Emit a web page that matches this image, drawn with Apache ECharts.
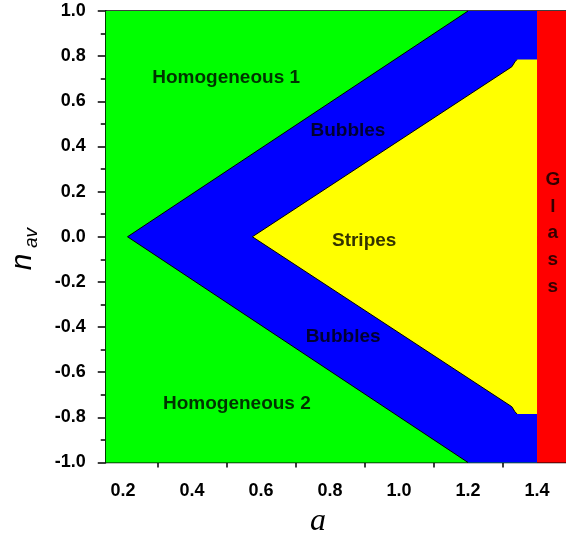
<!DOCTYPE html>
<html>
<head>
<meta charset="utf-8">
<script src="https://cdn.jsdelivr.net/npm/echarts@6/dist/echarts.min.js"></script>
<style>html,body{margin:0;padding:0;background:#fff}#c{width:566px;height:542px}</style>
</head>
<body>
<div id="c"></div>
<script>
// ---- data ----
const aRange = [0.15, 1.484];
const nRange = [-1.0, 1.0];
const glassStart = 1.40;                          // a where the Glass phase begins
const bubbleEdgeA = [1.20, 0.213, 1.20];          // Homogeneous / Bubbles boundary
const bubbleEdgeN = [1.00, 0.00, -1.00];
const stripeEdgeA = [1.342, 1.336, 1.327, 0.575, 1.327, 1.336, 1.342]; // Bubbles / Stripes boundary
const stripeEdgeN = [0.785, 0.775, 0.753, 0.00, -0.753, -0.775, -0.785];
const xMajorTicks = [0.2, 0.4, 0.6, 0.8, 1.0, 1.2, 1.4];
const xMinorTicks = [0.3, 0.5, 0.7, 0.9, 1.1, 1.3];
const regionNames = ['Homogeneous 1', 'Bubbles', 'Stripes', 'Bubbles', 'Homogeneous 2', 'G\nl\na\ns\ns'];
const regionLabelA = [0.499, 0.852, 0.899, 0.838, 0.530, 1.446];
const regionLabelN = [0.705, 0.468, -0.02, -0.441, -0.738, 0.016];

const FONT = 'Liberation Sans, Arial, sans-serif';
const chart = echarts.init(document.getElementById('c'), null, {renderer: 'canvas'});

function pts(as, ns, api) { return as.map((a, i) => api.coord([a, ns[i]])); }

const option = {
  animation: false,
  grid: {left: 105.75, right: 0, top: 11, bottom: 79.5, show: true, borderColor: '#000', borderWidth: 1.5, backgroundColor: 'transparent'},
  xAxis: [{
    type: 'value', min: aRange[0], max: aRange[1], position: 'bottom',
    axisLine: {show: true, lineStyle: {color: '#000', width: 1.5}},
    axisTick: {show: true, customValues: xMajorTicks, length: 8, lineStyle: {color: '#000', width: 1.5}},
    axisLabel: {show: true, customValues: xMajorTicks, margin: 20, color: '#000', fontSize: 18, fontWeight: 'bold', fontFamily: FONT, formatter: v => Number(v).toFixed(1)},
    splitLine: {show: false}
  }, {
    type: 'value', min: aRange[0], max: aRange[1], position: 'bottom',
    axisLine: {show: false},
    axisTick: {show: true, customValues: xMinorTicks, length: 5, lineStyle: {color: '#000', width: 1.5}},
    axisLabel: {show: false},
    splitLine: {show: false}
  }],
  yAxis: {
    type: 'value', min: nRange[0], max: nRange[1], interval: 0.2,
    axisLine: {show: true, lineStyle: {color: '#000', width: 1.5}},
    axisTick: {show: true, length: 8, lineStyle: {color: '#000', width: 1.5}},
    minorTick: {show: true, splitNumber: 2, length: 5, lineStyle: {color: '#000', width: 1.5}},
    axisLabel: {margin: 20, color: '#000', fontSize: 18, fontWeight: 'bold', fontFamily: FONT, formatter: v => Number(v).toFixed(1)},
    splitLine: {show: false}, minorSplitLine: {show: false}
  },
  graphic: [
    {type: 'text', x: 23, y: 262, rotation: Math.PI / 2, style: {text: 'n', font: 'italic 30px ' + FONT, fill: '#000', align: 'center', verticalAlign: 'middle'}},
    {type: 'text', x: 32, y: 238, rotation: Math.PI / 2, style: {text: 'av', font: 'italic 19px ' + FONT, fill: '#000', align: 'center', verticalAlign: 'middle'}},
    {type: 'text', x: 318, y: 522, style: {text: 'a', font: 'italic 32px Liberation Serif, Times New Roman, serif', fill: '#000', align: 'center', verticalAlign: 'middle'}}
  ],
  series: [{
    type: 'custom', xAxisIndex: 0, coordinateSystem: 'cartesian2d', data: [[0]], silent: true, z: 1,
    renderItem: function (params, api) {
      const lastN = stripeEdgeN[stripeEdgeN.length - 1];
      const green = pts([aRange[0], glassStart, glassStart, aRange[0]], [nRange[1], nRange[1], nRange[0], nRange[0]], api);
      const blue = pts(bubbleEdgeA.concat([glassStart, glassStart]), bubbleEdgeN.concat([nRange[0], nRange[1]]), api);
      const yellow = pts(stripeEdgeA.concat([glassStart, glassStart]), stripeEdgeN.concat([lastN, stripeEdgeN[0]]), api);
      const red = pts([glassStart, aRange[1], aRange[1], glassStart], [nRange[1], nRange[1], nRange[0], nRange[0]], api);
      return {type: 'group', children: [
        {type: 'polygon', shape: {points: green}, style: {fill: '#00ff00'}},
        {type: 'polygon', shape: {points: blue}, style: {fill: '#0000ff'}},
        {type: 'polyline', shape: {points: pts(bubbleEdgeA, bubbleEdgeN, api)}, style: {stroke: '#000', lineWidth: 1, fill: null}},
        {type: 'polygon', shape: {points: yellow}, style: {fill: '#ffff00'}},
        {type: 'polyline', shape: {points: pts(stripeEdgeA, stripeEdgeN, api)}, style: {stroke: '#000', lineWidth: 1, fill: null}},
        {type: 'polygon', shape: {points: red}, style: {fill: '#ff0000'}}
      ]};
    }
  }, {
    type: 'scatter', xAxisIndex: 0, symbolSize: 0, silent: true, z: 5,
    data: regionNames.map((nm, i) => ({name: nm, value: [regionLabelA[i], regionLabelN[i]]})),
    label: {show: true, position: 'inside', formatter: p => p.name, color: '#000', fontSize: 19, fontWeight: 'bold', fontFamily: FONT, lineHeight: 26.7, align: 'center', verticalAlign: 'middle'}
  }]
};
chart.setOption(option);
</script>
</body>
</html>
